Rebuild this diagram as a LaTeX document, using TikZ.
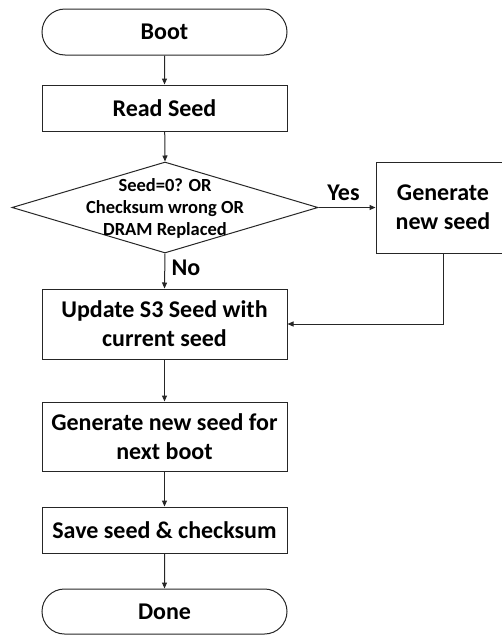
\documentclass[tikz,border=0pt]{standalone}
\usepackage{fontspec}
\setmainfont{Carlito}
\usetikzlibrary{shapes.geometric,shapes.misc,arrows.meta}
\tikzset{
  frame/.style={draw=black!85, line width=1pt},
  stepbox/.style={frame, rectangle, minimum width=245pt, inner sep=0pt, align=center,
    font=\bfseries\fontsize{24}{29}\selectfont},
  terminal/.style={stepbox, rounded rectangle},
  flow/.style={draw=black!85, line width=1pt, -{Triangle[length=6pt,width=5pt]}},
  lbl/.style={inner sep=0pt, font=\bfseries\fontsize{24}{29}\selectfont},
}
\begin{document}
\begin{tikzpicture}[x=1pt,y=-1pt]
  \useasboundingbox (0,0) rectangle (502,635);
  \node[terminal, minimum height=46pt] (boot) at (164.5,32) {Boot};
  \node[stepbox, minimum height=46pt] (read) at (164.5,108) {Read Seed};
  \node[frame, diamond, minimum width=306pt, minimum height=91pt, inner sep=0pt] (dec) at (165,207.5) {};
  \node[align=center, inner sep=0pt, font=\bfseries\fontsize{18.5}{22}\selectfont] at (165,208) {Seed=0? OR\\Checksum wrong OR\\DRAM Replaced};
  \node[stepbox, minimum width=134pt, minimum height=91pt] (gen) at (443,207.5) {Generate\\new seed};
  \node[stepbox, minimum height=70pt] (upd) at (164.5,324) {Update S3 Seed with\\current seed};
  \node[stepbox, minimum height=69pt] (next) at (164.5,436.5) {Generate new seed for\\next boot};
  \node[stepbox, minimum height=46pt] (save) at (164.5,530) {Save seed \& checksum};
  \node[terminal, minimum height=45pt] (done) at (164.5,611.5) {Done};

  \node[lbl] (yes) at (343.5,192.5) {Yes};
  \node[lbl] (no) at (186,268) {No};

  \draw[flow] (boot) -- (read);
  \draw[flow] (read) -- (dec.north);
  \draw[flow] (dec.east) -- (gen.west);
  \draw[flow] (dec.south) -- (upd.north);
  \draw[flow] (gen.south) |- (upd.east);
  \draw[flow] (upd) -- (next);
  \draw[flow] (next) -- (save);
  \draw[flow] (save) -- (done);
\end{tikzpicture}
\end{document}
